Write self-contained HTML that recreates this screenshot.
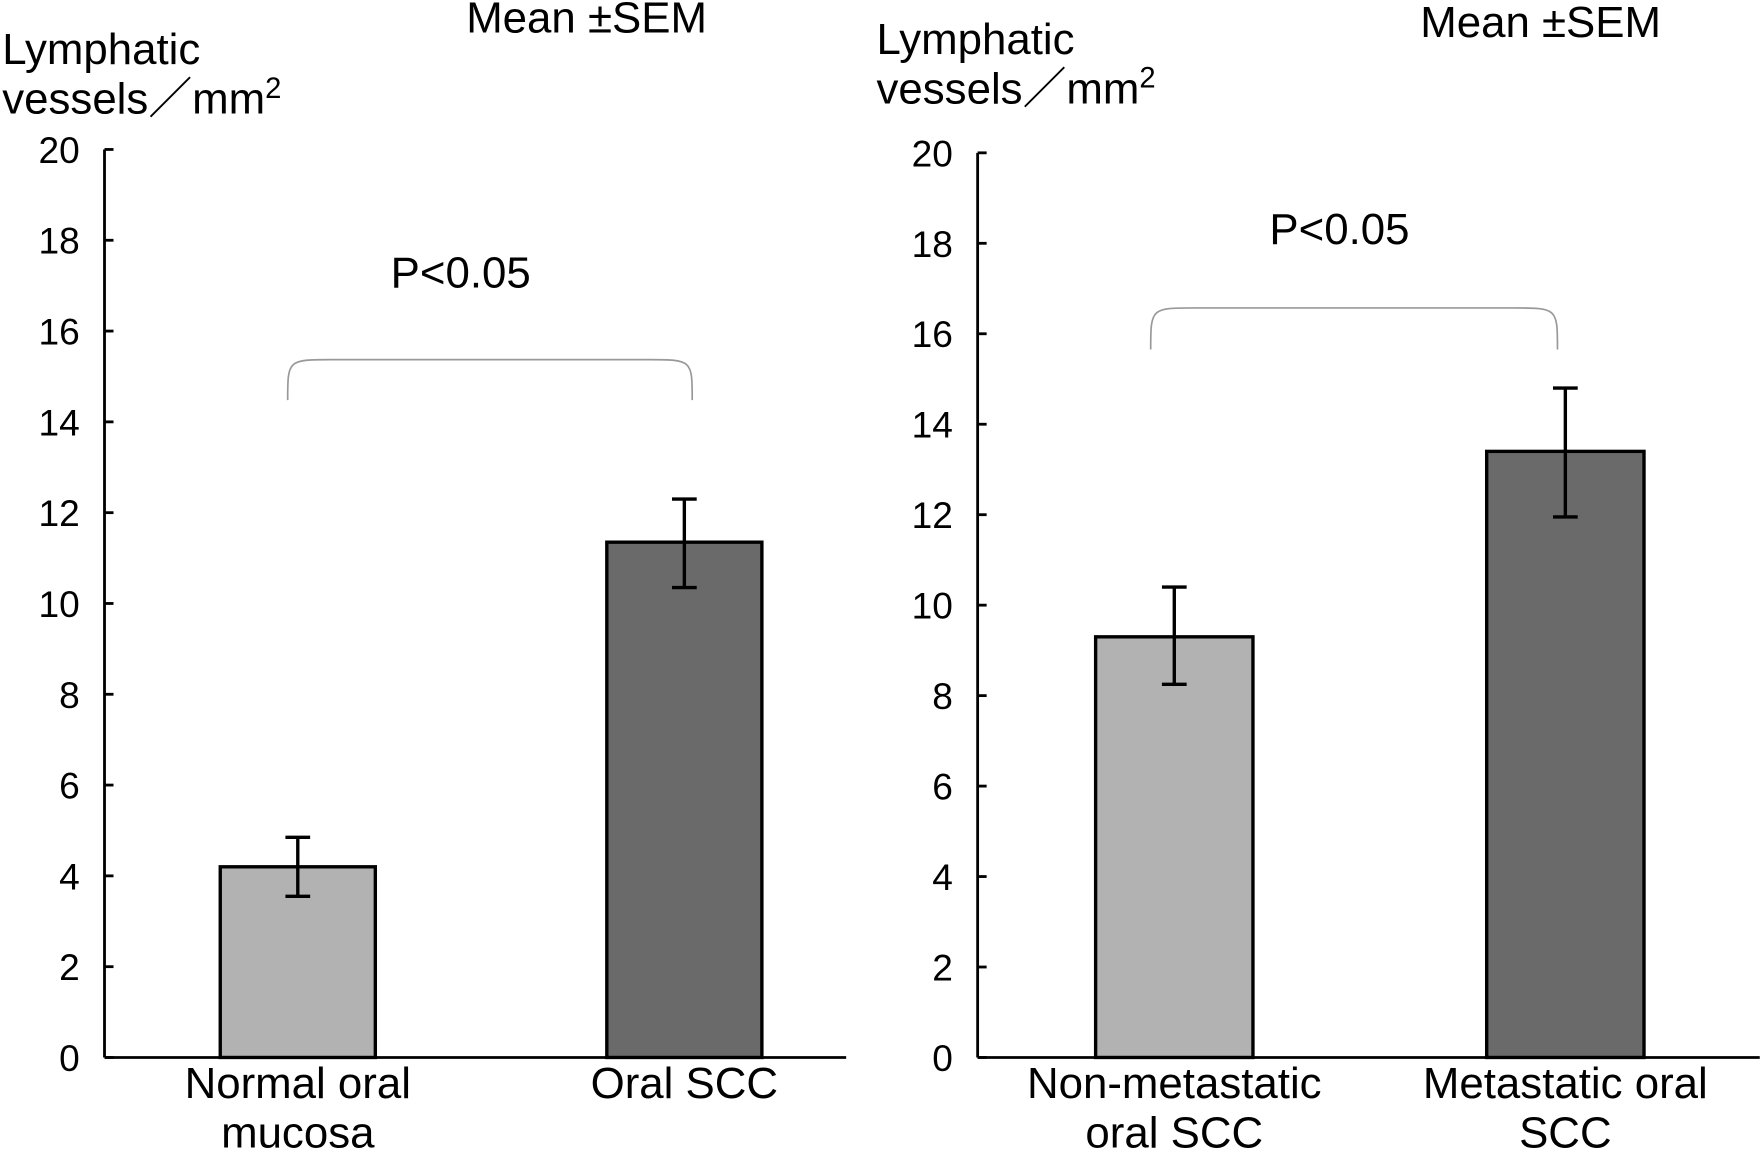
<!DOCTYPE html>
<html><head><meta charset="utf-8"><style>
html,body{margin:0;padding:0;background:#fff;}
svg{display:block;font-family:"Liberation Sans","Noto Sans CJK JP",sans-serif;}
</style></head><body>
<svg id="chart" width="1762" height="1153" viewBox="0 0 1568 1026" preserveAspectRatio="none"></svg>
<script>
const categoriesA = ["Normal oral|mucosa", "Oral SCC"];
const valuesA = [4.2, 11.35];
const errLowA = [3.55, 10.35];
const errHighA = [4.85, 12.3];
const categoriesB = ["Non-metastatic|oral SCC", "Metastatic oral|SCC"];
const valuesB = [9.3, 13.4];
const errLowB = [8.25, 11.95];
const errHighB = [10.4, 14.8];
const ticks = [0, 2, 4, 6, 8, 10, 12, 14, 16, 18, 20];

const NS = "http://www.w3.org/2000/svg";
const svg = document.getElementById('chart');
function mk(tag, attrs, parent, text) {
  const e = document.createElementNS(NS, tag);
  for (const k in attrs) e.setAttribute(k, attrs[k]);
  if (text !== undefined) e.textContent = text;
  (parent || svg).appendChild(e);
  return e;
}
const fills = ["#b2b2b2", "#6a6a6a"];

function panel(cfg) {
  const g = mk('g', {});
  
  
  const y = v => cfg.y0 - (v / 20) * (cfg.y0 - cfg.y20);
  // axes
  const ya = mk('line', {x1: cfg.ax, x2: cfg.ax, y1: y(20), y2: cfg.y0, stroke: '#000', 'stroke-width': 2.5}, g);
  
  
  const xa = mk('line', {x1: cfg.ax, x2: cfg.axEnd, y1: cfg.y0, y2: cfg.y0, stroke: '#000', 'stroke-width': 2.5}, g);
  
  
  ticks.forEach(t => {
    mk('line', {x1: cfg.ax, x2: cfg.ax + 8, y1: y(t), y2: y(t), stroke: '#000', 'stroke-width': 2.5}, g);
    const tl = mk('text', {x: cfg.ax - 22, y: y(t) + 12, 'text-anchor': 'end', 'font-size': 33}, g, String(t));
    
    
  });
  cfg.values.forEach((v, i) => {
    const cx = cfg.centers[i];
    const b = mk('rect', {x: cx - cfg.bw / 2, y: y(v), width: cfg.bw, height: cfg.y0 - y(v), fill: fills[i], stroke: '#000', 'stroke-width': 3}, g);
    
    
    const eb = mk('path', {d: `M${cx} ${y(cfg.lo[i])}V${y(cfg.hi[i])}M${cx - 11} ${y(cfg.lo[i])}H${cx + 11}M${cx - 11} ${y(cfg.hi[i])}H${cx + 11}`, stroke: '#000', 'stroke-width': 3, fill: 'none'}, g);
    
    
    const lines = cfg.cats[i].split('|');
    lines.forEach((ln, j) => {
      const t = mk('text', {x: cx, y: cfg.y0 + 36 + j * 44, 'text-anchor': 'middle', 'font-size': 39}, g, ln);
      
      
    });
  });
  // bracket
  const [bx1, bx2, by, bEnd] = cfg.bracket;
  const br = mk('path', {d: `M${bx1} ${bEnd}C${bx1} ${by} ${bx1} ${by} ${bx1 + 40} ${by}H${bx2 - 40}C${bx2} ${by} ${bx2} ${by} ${bx2} ${bEnd}`, stroke: '#999', 'stroke-width': 1.5, fill: 'none'}, g);
  
  
  const p = mk('text', {x: cfg.pPos[0], y: cfg.pPos[1], 'text-anchor': 'middle', 'font-size': 39}, g, 'P<0.05');
  
  
  const m = mk('text', {x: cfg.meanPos[0], y: cfg.meanPos[1], 'text-anchor': 'middle', 'font-size': 39}, g, 'Mean ±SEM');
  
  
  const yt = mk('text', {x: cfg.titlePos[0], y: cfg.titlePos[1], 'font-size': 39}, g);
  
  
  mk('tspan', {x: cfg.titlePos[0], dy: 0}, yt, 'Lymphatic');
  const t2 = mk('tspan', {x: cfg.titlePos[0], dy: 44}, yt, 'vessels／mm');
  mk('tspan', {dy: -14, 'font-size': 26}, yt, '2');
}

panel({name: 'left-panel', ax: 93, axEnd: 753, y0: 941, y20: 133, bw: 138, centers: [265, 609],
  values: valuesA, lo: errLowA, hi: errHighA, cats: categoriesA,
  bracket: [256, 616, 320, 356], pPos: [410, 256], meanPos: [522, 29], titlePos: [2, 57]});
panel({name: 'right-panel', ax: 870, axEnd: 1566, y0: 941, y20: 136, bw: 140, centers: [1045, 1393],
  values: valuesB, lo: errLowB, hi: errHighB, cats: categoriesB,
  bracket: [1024, 1386, 274, 311], pPos: [1192, 217], meanPos: [1371, 33], titlePos: [780, 48]});
</script>
</body></html>
